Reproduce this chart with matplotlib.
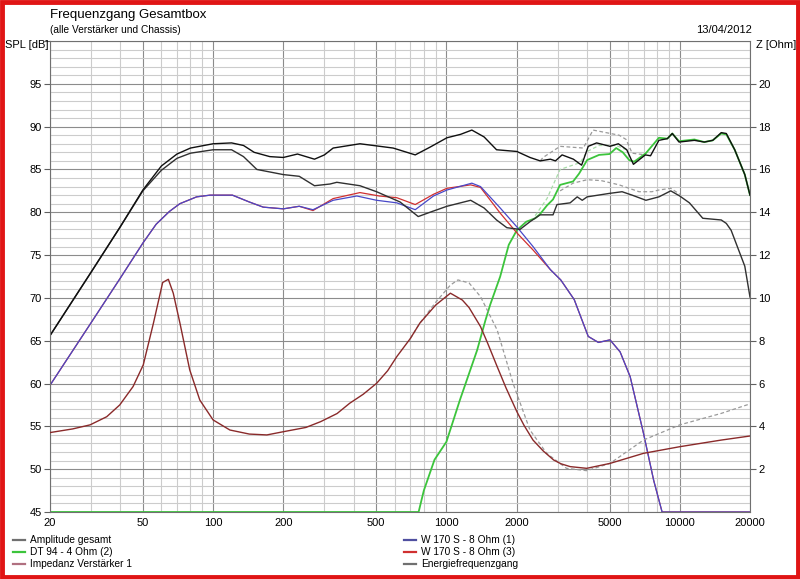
import matplotlib
matplotlib.use("Agg")
import matplotlib.pyplot as plt
from matplotlib.patches import Rectangle
from matplotlib.ticker import FixedLocator, NullFormatter

plt.rcParams['font.family'] = ['Liberation Sans', 'DejaVu Sans']

# Amplitude gesamt (SPL dB)
amp_f = [20, 30, 40, 50, 60, 70, 80, 100, 120, 135, 150, 175, 200, 230, 272, 300, 327, 426, 591, 735,
         850, 1005, 1150, 1285, 1450, 1640, 2003, 2281, 2522, 2790, 2932, 3131, 3500, 3796, 4054,
         4401, 5024, 5455, 5927, 6330, 7120, 7494, 8140, 8850, 9290, 9930, 11550, 12740, 13850,
         15060, 15830, 17200, 19000, 20000]
amp_db = [65.6, 73.0, 78.3, 82.6, 85.4, 86.8, 87.5, 88.0, 88.1, 87.8, 87.0, 86.5, 86.4, 86.8, 86.2,
          86.7, 87.5, 88.0, 87.5, 86.7, 87.6, 88.7, 89.1, 89.6, 88.8, 87.3, 87.1, 86.4, 86.0, 86.2,
          86.0, 86.7, 86.2, 85.5, 87.7, 88.1, 87.7, 88.0, 87.3, 85.6, 86.7, 86.6, 88.4, 88.6, 89.2,
          88.2, 88.4, 88.2, 88.4, 89.3, 89.2, 87.3, 84.4, 82.0]

# Energiefrequenzgang
en_f = [20, 30, 40, 50, 60, 70, 80, 100, 120, 135, 154, 200, 234, 272, 317, 339, 426, 502, 633,
        757, 870, 1005, 1270, 1450, 1640, 1815, 2067, 2281, 2522, 2863, 2977, 3390, 3635, 3820,
        4010, 4980, 5660, 6250, 7160, 8140, 9150, 10000, 11000, 12550, 15060, 15830, 16600, 19000,
        20000]
en_db = [65.6, 73.0, 78.3, 82.5, 84.9, 86.3, 86.9, 87.3, 87.3, 86.5, 85.0, 84.4, 84.2, 83.1, 83.3,
         83.5, 83.1, 82.4, 81.2, 79.5, 80.1, 80.7, 81.4, 80.5, 79.1, 78.2, 78.0, 78.9, 79.7, 79.7,
         80.9, 81.1, 81.8, 81.4, 81.8, 82.2, 82.4, 82.0, 81.4, 81.8, 82.5, 81.9, 81.1, 79.3, 79.1,
         78.7, 77.9, 73.7, 70.1]

# DT 94 - 4 Ohm (2)
dt_f = [20, 760, 800, 889, 1000, 1143, 1354, 1470, 1540, 1700, 1850, 2003, 2200, 2400, 2522, 2698,
        2863, 3070, 3490, 3700, 4010, 4510, 5000, 5340, 5700, 6070, 6370, 7160, 8140, 8850, 9290,
        9930, 11550, 12740, 13850, 15060, 15830, 17200, 19000, 20000]
dt_db = [45, 45, 47.5, 51.1, 53.2, 58.1, 63.9, 67.4, 69.2, 72.5, 76.2, 77.9, 78.9, 79.3, 79.8, 80.8,
         81.5, 83.2, 83.6, 84.5, 86.1, 86.7, 86.8, 87.5, 87.0, 86.1, 85.9, 86.9, 88.7, 88.6, 89.2,
         88.3, 88.5, 88.2, 88.4, 89.2, 89.1, 87.3, 84.4, 82.0]

# W 170 S - 8 Ohm (1)
w1_f = [20, 30, 40, 50, 57, 65, 72, 85, 97, 121, 143, 164, 200, 234, 268, 327, 413, 502, 613, 735,
        880, 1005, 1285, 1400, 1700, 2003, 2350, 2790, 3090, 3530, 3800, 4054, 4480, 5024, 5550,
        6130, 6990, 7730, 8400, 20000]
w1_db = [59.8, 67.1, 72.3, 76.4, 78.6, 80.1, 81.0, 81.8, 82.0, 82.0, 81.2, 80.6, 80.4, 80.7, 80.3,
         81.4, 81.9, 81.4, 81.1, 80.3, 81.9, 82.6, 83.4, 83.0, 80.5, 78.3, 76.0, 73.3, 72.1, 69.8,
         67.5, 65.5, 64.8, 65.1, 63.7, 60.8, 54.2, 48.7, 45.0, 45.0]

# W 170 S - 8 Ohm (3)
w3_f = [20, 30, 40, 50, 57, 65, 72, 85, 97, 121, 143, 164, 200, 234, 268, 327, 426, 516, 613, 735,
        880, 1005, 1270, 1400, 1700, 2003, 2350, 2790, 3090, 3530, 3800, 4054, 4480, 5024, 5550,
        6130, 6990, 7730, 8400, 20000]
w3_db = [59.8, 67.1, 72.3, 76.4, 78.6, 80.1, 81.0, 81.8, 82.0, 82.0, 81.2, 80.6, 80.4, 80.7, 80.2,
         81.6, 82.3, 81.9, 81.7, 80.9, 82.1, 82.8, 83.2, 82.9, 79.9, 77.6, 75.6, 73.3, 72.1, 69.8,
         67.5, 65.5, 64.8, 65.1, 63.7, 60.8, 54.2, 48.7, 45.0, 45.0]

# Impedanz Verstaerker 1 (Ohm)
imp_f = [20, 25, 29.7, 35, 39.8, 45.4, 50.2, 55.5, 60.8, 64.3, 67.5, 72.1, 79.4, 87.7, 100, 118,
         143, 170, 200, 250, 289, 340, 385, 440, 502, 560, 613, 700, 769, 900, 1040, 1170, 1250,
         1400, 1500, 1650, 1800, 2003, 2150, 2350, 2600, 2880, 3100, 3390, 3990, 5024, 6990,
         10000, 15060, 20000]
imp_ohm = [3.71, 3.88, 4.07, 4.45, 5.0, 5.86, 6.87, 8.82, 10.72, 10.87, 10.22, 8.82, 6.64, 5.23,
           4.30, 3.83, 3.64, 3.6, 3.75, 3.95, 4.22, 4.6, 5.08, 5.5, 6.01, 6.6, 7.26, 8.1, 8.82,
           9.67, 10.22, 9.9, 9.55, 8.66, 7.9, 6.79, 5.8, 4.69, 4.05, 3.36, 2.85, 2.43, 2.25, 2.12,
           2.04, 2.27, 2.74, 3.05, 3.36, 3.55]

# dashed reference curves
imp_ref_f = [700, 769, 900, 1040, 1120, 1250, 1400, 1650, 1930, 2280, 2690, 3270, 3990, 5024, 6990,
             10000, 15000, 20000]
imp_ref_ohm = [8.1, 8.82, 9.8, 10.6, 10.84, 10.7, 10.06, 8.5, 6.01, 3.83, 2.74, 2.04, 1.93, 2.27,
               3.36, 4.07, 4.6, 5.05]
amp_ref_f = [2522, 2595, 3070, 3860, 4250, 5500, 5890, 6250, 7120]
amp_ref_db = [86.0, 86.4, 87.7, 87.5, 89.6, 89.0, 88.5, 86.9, 86.7]
dt_ref_f = [2400, 2698, 3070, 3745, 4010, 4510, 5340, 5900]
dt_ref_db = [79.6, 81.6, 85.0, 85.8, 87.1, 87.8, 87.8, 87.3]
en_ref_f = [3070, 3490, 4010, 4600, 5500, 6690, 7600, 8140, 9150, 10000]
en_ref_db = [82.5, 83.4, 83.8, 83.7, 83.2, 82.4, 82.4, 82.6, 82.8, 82.1]

x_major = [20, 50, 100, 200, 500, 1000, 2000, 5000, 10000, 20000]
x_minor = [30, 40, 60, 70, 80, 90, 300, 400, 600, 700, 800, 900,
           3000, 4000, 6000, 7000, 8000, 9000]
spl_ticks = [45, 50, 55, 60, 65, 70, 75, 80, 85, 90, 95]
z_ticks = [2, 4, 6, 8, 10, 12, 14, 16, 18, 20]

fig = plt.figure(figsize=(8, 5.79), dpi=100)
ax = fig.add_axes([50 / 800, 1 - 512 / 579, 700 / 800, 471 / 579])
ax.set_xscale('log')
ax.set_xlim(20, 20000)
ax.set_ylim(45, 100)

ax.xaxis.set_major_locator(FixedLocator(x_major))
ax.xaxis.set_minor_locator(FixedLocator(x_minor))
ax.xaxis.set_minor_formatter(NullFormatter())
ax.set_xticklabels([str(v) for v in x_major])
ax.yaxis.set_major_locator(FixedLocator(spl_ticks + [100]))
ax.yaxis.set_minor_locator(FixedLocator([v for v in range(45, 101) if v % 5]))
ax.set_yticklabels([str(v) for v in spl_ticks] + [""])
ax.grid(True, which='major', axis='both', color='#8c8c8c', lw=0.8)
ax.grid(True, which='minor', axis='both', color='#cccccc', lw=0.8)
ax.tick_params(axis='x', which='both', length=0, labelsize=8, pad=4)
ax.tick_params(axis='y', which='major', length=4, color='#606060', labelsize=8, pad=2)
ax.tick_params(axis='y', which='minor', length=0)
for s in ax.spines.values():
    s.set_color('#707070')
    s.set_linewidth(0.8)

ax.plot(amp_ref_f, amp_ref_db, color='#9a9a9a', lw=0.9, ls=(0, (3, 2)))
ax.plot(en_ref_f, en_ref_db, color='#9a9a9a', lw=0.9, ls=(0, (3, 2)))
ax.plot(dt_ref_f, dt_ref_db, color='#a8dca8', lw=0.9, ls=(0, (3, 2)))
ax.plot(dt_f, dt_db, color='#3cc43c', lw=1.3)
ax.plot(w3_f, w3_db, color='#d03030', lw=0.9)
ax.plot(w1_f, w1_db, color='#4848c8', lw=0.9)
ax.plot(en_f, en_db, color='#303030', lw=1.0)
ax.plot(amp_f, amp_db, color='#101010', lw=1.0)

ax2 = ax.twinx()
ax2.set_ylim(0, 22)
ax2.yaxis.set_major_locator(FixedLocator(z_ticks))
ax2.tick_params(axis='y', length=4, color='#606060', labelsize=8, pad=2)
for s in ax2.spines.values():
    s.set_visible(False)
ax2.plot(imp_ref_f, imp_ref_ohm, color='#9a9a9a', lw=0.9, ls=(0, (3, 2)))
ax2.plot(imp_f, imp_ohm, color='#8a2a2a', lw=1.0)

fig.text(50 / 800, 1 - 15 / 579, "Frequenzgang Gesamtbox", fontsize=9.5, va='center', ha='left')
fig.text(50 / 800, 1 - 30 / 579, "(alle Verstärker und Chassis)", fontsize=7.3, va='center', ha='left')
fig.text(752 / 800, 1 - 30 / 579, "13/04/2012", fontsize=8, va='center', ha='right')
fig.text(5 / 800, 1 - 45 / 579, "SPL [dB]", fontsize=8, va='center', ha='left')
fig.text(756 / 800, 1 - 45 / 579, "Z [Ohm]", fontsize=8, va='center', ha='left')

legend_items = [
    ("Amplitude gesamt", '#707070', 13, 540),
    ("DT 94 - 4 Ohm (2)", '#3cc43c', 13, 552),
    ("Impedanz Verstärker 1", '#b07080', 13, 564),
    ("W 170 S - 8 Ohm (1)", '#5050a0', 404, 540),
    ("W 170 S - 8 Ohm (3)", '#d03030', 404, 552),
    ("Energiefrequenzgang", '#707070', 404, 564),
]
for label, col, lx, ly in legend_items:
    yy = 1 - ly / 579
    fig.add_artist(plt.Line2D([lx / 800, (lx + 12) / 800], [yy, yy], color=col, lw=1.6))
    fig.text((lx + 17) / 800, yy, label, fontsize=7.3, va='center', ha='left')

fig.add_artist(Rectangle((0.002, 0.003), 0.996, 0.994, transform=fig.transFigure,
                         fill=False, edgecolor='#e01515', lw=3.5))

fig.savefig("out.png", dpi=100)
